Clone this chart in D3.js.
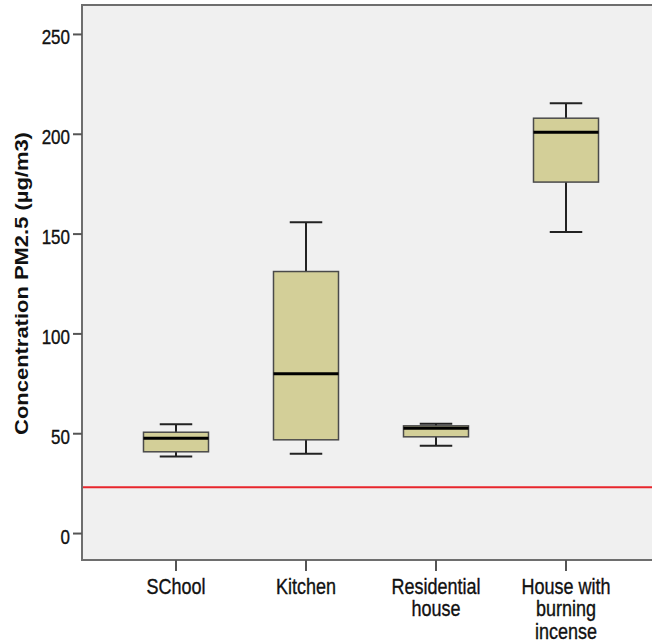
<!DOCTYPE html>
<html>
<head>
<meta charset="utf-8">
<script src="https://cdn.jsdelivr.net/npm/d3@7"></script>
<style>
  body { margin: 0; background: #fff; }
  text { font-family: "Liberation Sans", Arial, sans-serif; fill: #111; }
</style>
</head>
<body>
<svg id="chart" width="652" height="642"></svg>
<script>
// data
const categories = ["SChool", "Kitchen", "Residential house", "House with burning incense"];
const labelLines = [["SChool"], ["Kitchen"], ["Residential", "house"], ["House with", "burning", "incense"]];
const whiskerLow = [38.3, 39.7, 43.7, 150.8];
const q1 = [40.7, 46.7, 48.2, 175.8];
const median = [47.5, 79.8, 52.5, 200.7];
const q3 = [50.5, 131, 53.7, 207.8];
const whiskerHigh = [54.5, 155.7, 54.7, 215.3];
const yTicks = [0, 50, 100, 150, 200, 250];
const referenceLine = 23;

let data = categories.map((c, i) => ({
  cat: c, lines: labelLines[i],
  lo: whiskerLow[i], q1: q1[i], med: median[i], q3: q3[i], hi: whiskerHigh[i]
}));

let svg = d3.select("#chart");

let plotLeft = 82, plotRight = 660, plotTop = 5, plotBottom = 560;
// the source picture is stretched vertically, so text is drawn taller than wide
let stretch = 1.22;

let x_scale = d3.scaleBand()
  .domain(categories)
  .range([plotLeft, plotRight])
  .paddingInner(0)
  .paddingOuter(0.223);

let y_scale = d3.scaleLinear()
  .domain([-13.5, 264.5])
  .range([plotBottom, plotTop]);

// plot background
svg.append("rect")
  .attr("x", plotLeft).attr("y", plotTop)
  .attr("width", plotRight - plotLeft).attr("height", plotBottom - plotTop)
  .attr("fill", "#f0f0f0")
  .attr("stroke", "#6e6e6e")
  .attr("stroke-width", 2);

// reference line
svg.append("line")
  .attr("x1", plotLeft + 1).attr("x2", plotRight)
  .attr("y1", y_scale(referenceLine)).attr("y2", y_scale(referenceLine))
  .attr("stroke", "#e8262c")
  .attr("stroke-width", 2);

// Y-axis
let yAxis = svg.append("g")
  .attr("transform", `translate(${plotLeft}, 0)`)
  .call(d3.axisLeft(y_scale).tickValues(yTicks).tickSize(9).tickPadding(3));
yAxis.select(".domain").remove();
yAxis.selectAll("line").attr("stroke", "#555").attr("stroke-width", 2);
yAxis.selectAll("text")
  .attr("font-size", 17)
  .attr("fill", "#111")
  .attr("dy", "8.2px")
  .attr("transform", `scale(1, ${stretch})`)
  .style("font-family", "'Liberation Sans', Arial, sans-serif")
  .attr("stroke", "#111").attr("stroke-width", 0.3);

// X-axis
let xAxis = svg.append("g")
  .attr("transform", `translate(0, ${plotBottom})`)
  .call(d3.axisBottom(x_scale).tickSize(11).tickFormat(""));
xAxis.select(".domain").remove();
xAxis.selectAll("line").attr("stroke", "#555").attr("stroke-width", 2);

// category labels
let catLabels = svg.append("g").selectAll("g")
  .data(data)
  .join("g")
  .attr("transform", d => `translate(${x_scale(d.cat) + x_scale.bandwidth() / 2}, 594) scale(1, ${stretch})`)
  .append("text")
  .attr("text-anchor", "middle")
  .attr("font-size", 18)
  .attr("stroke", "#111").attr("stroke-width", 0.3);
catLabels.selectAll("tspan")
  .data(d => d.lines)
  .join("tspan")
  .attr("x", 0)
  .attr("dy", (t, i) => i === 0 ? 0 : 22.5 / stretch)
  .text(t => t);

// Y-axis label
svg.append("text")
  .attr("transform", `translate(28, ${(plotTop + plotBottom) / 2 + 1}) rotate(-90) scale(${stretch}, 1)`)
  .attr("text-anchor", "middle")
  .attr("font-size", 18)
  .attr("font-weight", "bold")
  .text("Concentration PM2.5 (µg/m3)");

// boxes
let boxW = x_scale.bandwidth() * 0.5;
let capW = boxW * 0.5;
let boxes = svg.append("g").selectAll("g")
  .data(data)
  .join("g")
  .attr("transform", d => `translate(${x_scale(d.cat) + x_scale.bandwidth() / 2}, 0)`);

boxes.append("line")
  .attr("x1", 0).attr("x2", 0)
  .attr("y1", d => y_scale(d.hi)).attr("y2", d => y_scale(d.lo))
  .attr("stroke", "#222").attr("stroke-width", 2);

boxes.append("line")
  .attr("x1", -capW / 2).attr("x2", capW / 2)
  .attr("y1", d => y_scale(d.hi)).attr("y2", d => y_scale(d.hi))
  .attr("stroke", "#222").attr("stroke-width", 2);

boxes.append("line")
  .attr("x1", -capW / 2).attr("x2", capW / 2)
  .attr("y1", d => y_scale(d.lo)).attr("y2", d => y_scale(d.lo))
  .attr("stroke", "#222").attr("stroke-width", 2);

boxes.append("rect")
  .attr("x", -boxW / 2)
  .attr("width", boxW)
  .attr("y", d => y_scale(d.q3))
  .attr("height", d => y_scale(d.q1) - y_scale(d.q3))
  .attr("fill", "#d3cf98")
  .attr("stroke", "#4a4a4a")
  .attr("stroke-width", 1.5);

boxes.append("line")
  .attr("x1", -boxW / 2).attr("x2", boxW / 2)
  .attr("y1", d => y_scale(d.med)).attr("y2", d => y_scale(d.med))
  .attr("stroke", "#000").attr("stroke-width", 3);
</script>
</body>
</html>
